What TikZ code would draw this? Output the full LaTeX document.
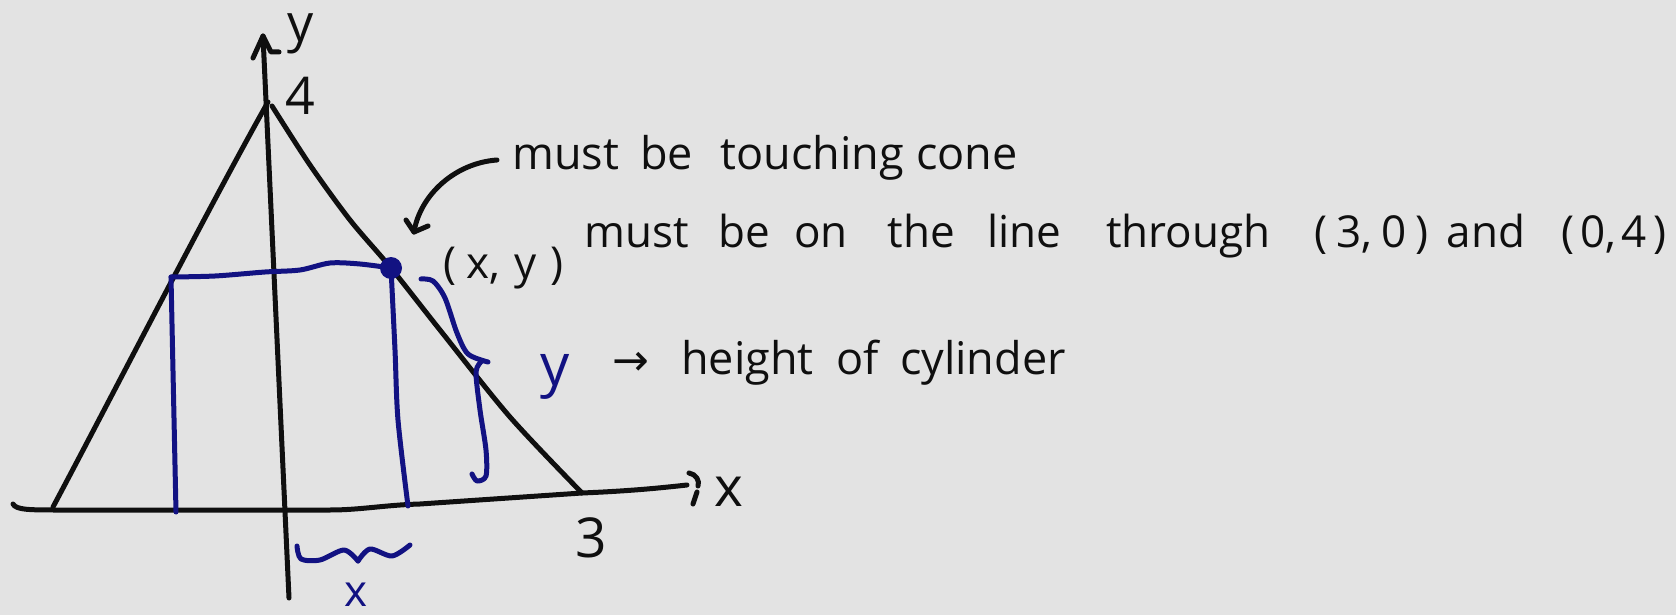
\documentclass[tikz,border=0pt]{standalone}
\usepackage{fontspec}
\setmainfont{Open Sans}
\newfontfamily\symfont{DejaVu Sans}
\newcommand\wsp[1]{\hspace{#1pt}}
\definecolor{paper}{RGB}{227,227,227}
\definecolor{ink}{RGB}{15,15,15}
\definecolor{pen}{RGB}{18,18,130}
\tikzset{
  blk/.style={draw=ink, line width=5pt, line cap=round, line join=round},
  blu/.style={draw=pen, line width=5pt, line cap=round, line join=round},
  lbl/.style={inner sep=0pt, text=ink},
  blbl/.style={inner sep=0pt, text=pen},
}
\begin{document}
\begin{tikzpicture}[x=1pt,y=-1pt]
\fill[paper] (0,0) rectangle (1676,615);
\useasboundingbox (0,0) rectangle (1676,615);

% key points
\coordinate (ytip) at (263,36);
\coordinate (ybot) at (289,598);
\coordinate (xl) at (13,504);
\coordinate (xtip) at (687,485);
\coordinate (apex) at (268,102);
\coordinate (apexr) at (272,106);
\coordinate (cl) at (53,507);
\coordinate (cr) at (582,493);
\coordinate (pt) at (391,268);
\coordinate (tl) at (171,277);
\coordinate (bl) at (176,512);
\coordinate (br) at (408,506);
\coordinate (arrs) at (497,160);
\coordinate (arre) at (414,232);

% y-axis
\draw[blk] (ytip) -- (ybot);
\draw[blk] (253,58) -- (ytip) -- (271,52) -- (279,52);

% x-axis
\draw[blk] (xl) .. controls (16,510) and (30,510) .. (60,510) -- (330,510)
  .. controls (360,510) and (385,505) .. (420,504) -- (cr)
  .. controls (630,491) and (660,488) .. (xtip);
\draw[blk] (689,473) .. controls (696,474) and (700,481) .. (698,486);
\draw[blk] (697,492) -- (693,504);

% cone
\draw[blk] (cl) .. controls (110,400) and (210,205) .. (apex);
\draw[blk] plot[smooth] coordinates {(apexr) (310,165) (350,220) (pt) (440,330) (510,417) (cr)};

% cylinder cross-section (blue)
\draw[blu] plot[smooth] coordinates {(tl) (215,276) (265,272) (300,270) (330,263) (360,264) (pt)};
\draw[blu] (tl) -- (bl);
\draw[blu] plot[smooth] coordinates {(pt) (395,350) (398,420) (br)};
\fill[pen] (pt) circle (11);

% brace for y
\draw[blu] plot[smooth] coordinates {(421,279) (433,281) (445,298) (457,333) (468,354) (488,362)};
\draw[blu] plot[smooth] coordinates {(482,361) (476,372) (480,410) (486,450) (486,476) (477,481) (472,474)};

% brace for x
\draw[blu] plot[smooth] coordinates {(297,546) (301,559) (320,560) (344,550) (358,561)};
\draw[blu] plot[smooth] coordinates {(358,561) (370,549) (392,556) (410,545)};

% curved arrow
\draw[blk] (arrs) .. controls (455,163) and (420,195) .. (arre);
\draw[blk] (406,220) -- (arre) -- (428,226);

% labels
\node[lbl, font=\fontsize{52}{60}\selectfont] (ylab) at (301,34) {y};
\node[lbl, font=\fontsize{52}{60}\selectfont] (four) at (300,96) {4};
\node[lbl, font=\fontsize{55}{60}\selectfont] (three) at (591,538) {3};
\node[lbl, font=\fontsize{55}{60}\selectfont] (xlab) at (729,492) {x};
\node[blbl, font=\fontsize{44}{54}\selectfont] (xbl) at (356,595) {x};
\node[lbl, anchor=base west, font=\fontsize{45}{54}\selectfont] (t1) at (512,170) {must\wsp{21}be\wsp{28}touching\wsp{12}cone};
\node[lbl, anchor=base west, font=\fontsize{44}{54}\selectfont] (t2) at (584,247) {must\wsp{30}be\wsp{24}on\wsp{40}the\wsp{32}line\wsp{45}through\wsp{44}(\wsp{9}3,\wsp{9}0\wsp{9})\wsp{18}and\wsp{36}(\wsp{6}0,\wsp{6}4\wsp{6})};
\node[lbl, anchor=base west, font=\fontsize{44}{54}\selectfont] (pxy) at (443,278) {(\wsp{10}x,\wsp{14}y\wsp{14})};
\node[blbl, anchor=base west, font=\fontsize{58}{64}\selectfont] (yb) at (540,385) {y};
\node[lbl, anchor=center, font=\symfont\fontsize{44}{50}\selectfont] (arr) at (631,364) {→};
\node[lbl, anchor=base west, font=\fontsize{45}{54}\selectfont] (t3) at (681,374) {height\wsp{23}of\wsp{21}cylinder};
\end{tikzpicture}
\end{document}
